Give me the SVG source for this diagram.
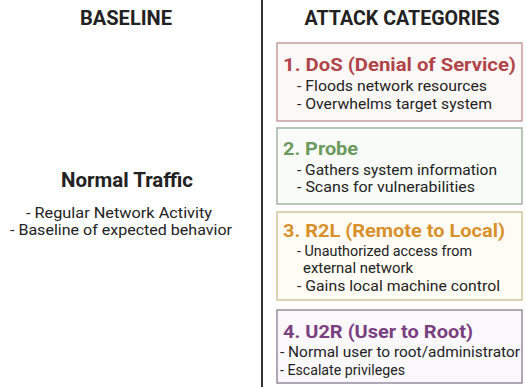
<svg xmlns="http://www.w3.org/2000/svg" width="526" height="387" viewBox="0 0 526 387">
  <style>
    .head { font-family: Roboto, "Liberation Sans", sans-serif; font-weight: 700; font-size: 20px; fill: #222; }
    .ttl { font-family: Roboto, "Liberation Sans", sans-serif; font-weight: 700; font-size: 19px; }
    .txt { font-family: Roboto, "Liberation Sans", sans-serif; font-weight: 400; font-size: 14.5px; fill: #222; }
    .box { stroke-width: 1.5; }
  </style>
  <rect width="526" height="387" fill="#ffffff"/>

  <!-- column headers -->
  <text class="head" x="126" y="25" text-anchor="middle" textLength="92" lengthAdjust="spacingAndGlyphs">BASELINE</text>
  <text class="head" x="402" y="25" text-anchor="middle" textLength="195" lengthAdjust="spacingAndGlyphs">ATTACK CATEGORIES</text>

  <!-- divider -->
  <g id="connectors">
    <line x1="262" y1="0" x2="262" y2="387" stroke="#333" stroke-width="2"/>
  </g>

  <g id="normal">
    <text class="head" x="127" y="187" text-anchor="middle" textLength="132" lengthAdjust="spacingAndGlyphs">Normal Traffic</text>
    <text class="txt" x="119" y="218" text-anchor="middle" textLength="186" lengthAdjust="spacingAndGlyphs">- Regular Network Activity</text>
    <text class="txt" x="121" y="235" text-anchor="middle" textLength="222" lengthAdjust="spacingAndGlyphs">- Baseline of expected behavior</text>
  </g>

  <g id="dos">
    <rect class="box" x="277" y="43" width="245" height="78" fill="#fdf8f8" stroke="#c49c9c"/>
    <text class="ttl" x="283" y="71" fill="#b04448" textLength="233" lengthAdjust="spacingAndGlyphs">1. DoS (Denial of Service)</text>
    <text class="txt" x="297" y="91" textLength="190" lengthAdjust="spacingAndGlyphs">- Floods network resources</text>
    <text class="txt" x="297" y="109" textLength="195" lengthAdjust="spacingAndGlyphs">- Overwhelms target system</text>
  </g>

  <g id="probe">
    <rect class="box" x="277" y="128" width="245" height="76" fill="#f8fbf8" stroke="#a4b4a4"/>
    <text class="ttl" x="283" y="155" fill="#6a9a5c" textLength="75" lengthAdjust="spacingAndGlyphs">2. Probe</text>
    <text class="txt" x="297" y="175" textLength="200" lengthAdjust="spacingAndGlyphs">- Gathers system information</text>
    <text class="txt" x="297" y="192" textLength="178" lengthAdjust="spacingAndGlyphs">- Scans for vulnerabilities</text>
  </g>

  <g id="r2l">
    <rect class="box" x="277" y="212" width="245" height="88" fill="#fffcf5" stroke="#d4c49c"/>
    <text class="ttl" x="283" y="237" fill="#d8902a" textLength="222" lengthAdjust="spacingAndGlyphs">3. R2L (Remote to Local)</text>
    <text class="txt" x="297" y="256" textLength="175" lengthAdjust="spacingAndGlyphs">- Unauthorized access from</text>
    <text class="txt" x="303" y="273" textLength="110" lengthAdjust="spacingAndGlyphs">external network</text>
    <text class="txt" x="297" y="291" textLength="203" lengthAdjust="spacingAndGlyphs">- Gains local machine control</text>
  </g>

  <g id="u2r">
    <rect class="box" x="277" y="310" width="245" height="73" fill="#faf8fb" stroke="#968aa0"/>
    <text class="ttl" x="283" y="338" fill="#7a3f80" textLength="190" lengthAdjust="spacingAndGlyphs">4. U2R (User to Root)</text>
    <text class="txt" x="280" y="357" textLength="240" lengthAdjust="spacingAndGlyphs">- Normal user to root/administrator</text>
    <text class="txt" x="280" y="375" textLength="125" lengthAdjust="spacingAndGlyphs">- Escalate privileges</text>
  </g>
</svg>
